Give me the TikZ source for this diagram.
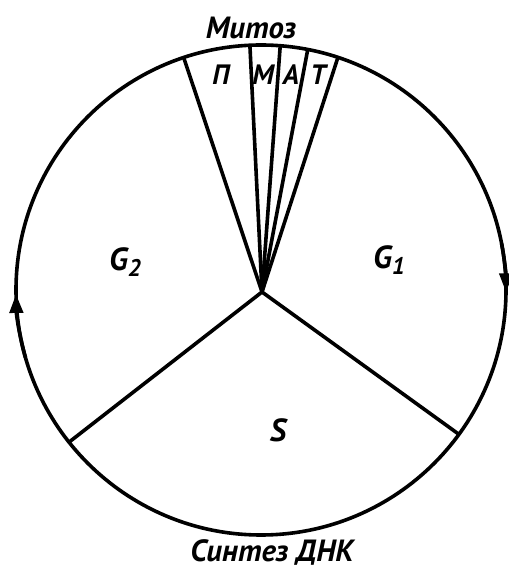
\documentclass[tikz,border=0pt]{standalone}
\usepackage{fontspec}
\setmainfont{PT Sans}
\usetikzlibrary{arrows.meta}
\tikzset{
  lbl/.style={font=\fontsize{21}{21}\selectfont\bfseries\itshape, inner sep=0pt},
  big/.style={font=\fontsize{24}{24}\selectfont\bfseries\itshape, inner sep=0pt},
  ln/.style={line width=2.7pt},
  arr/.style={line width=2.7pt, -{Triangle[length=14pt,width=10pt]}}
}
\newcommand{\gsub}[1]{\raisebox{-5pt}{\fontsize{18}{18}\selectfont #1}}
\begin{document}
\begin{tikzpicture}[x=0.75pt,y=0.75pt]
\useasboundingbox (0,0) rectangle (509,571);
\coordinate (Cc) at (261,281);
\coordinate (O) at (262,279);
\draw[ln] (Cc) circle[radius=245];
\path (Cc) ++(108.4:245) coordinate (e1);
\path (Cc) ++(92.6:245) coordinate (e2);
\path (Cc) ++(85.5:245) coordinate (e3);
\path (Cc) ++(79.0:245) coordinate (e4);
\path (Cc) ++(71.7:245) coordinate (e5);
\path (Cc) ++(218.4:245) coordinate (e6);
\path (Cc) ++(323.9:245) coordinate (e7);
\foreach \e in {e1,e2,e3,e4,e5,e6,e7} \draw[ln] (O) -- (\e);
\path (Cc) ++(196:245) coordinate (a1s);
\draw[arr] (a1s) arc[start angle=196, end angle=181, radius=245];
\path (Cc) ++(11:245) coordinate (a2s);
\draw[arr] (a2s) arc[start angle=11, end angle=-0.5, radius=245];
\node[lbl, font=\fontsize{23}{23}\selectfont\bfseries\itshape] (mit) at (251,543) {Митоз};
\node[lbl] (p) at (221,496) {П};
\node[lbl] (m) at (263,496) {М};
\node[lbl] (a) at (291,496) {А};
\node[lbl] (t) at (318,496) {Т};
\node[big] (g2) at (125,309) {G\gsub{2}};
\node[big] (g1) at (389,311) {G\gsub{1}};
\node[big] (s) at (278,141) {S};
\node[lbl, font=\fontsize{23}{23}\selectfont\bfseries\itshape] (dna) at (272,19) {Синтез ДНК};
\end{tikzpicture}
\end{document}
